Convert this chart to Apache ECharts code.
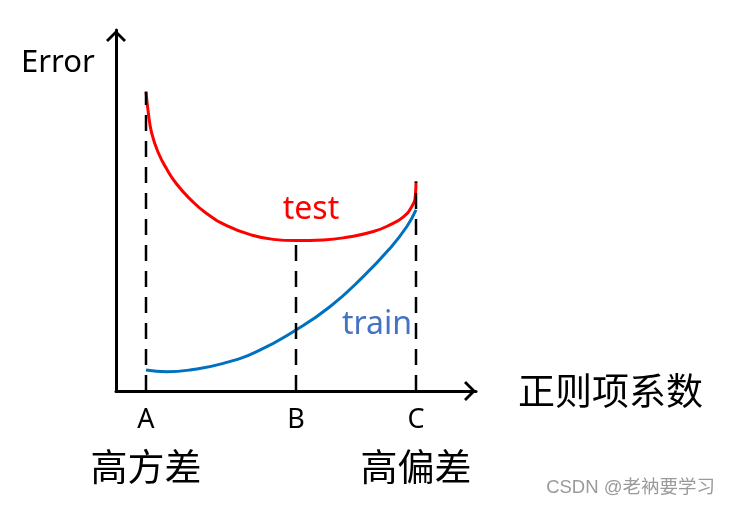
<!DOCTYPE html>
<html><head><meta charset="utf-8">
<script src="https://cdn.jsdelivr.net/npm/echarts@6/dist/echarts.min.js"></script>
<style>html,body{margin:0;padding:0;background:#fff}#c{width:732px;height:505px}</style>
</head><body><div id="c"></div>
<script>
// data (x: regularization coefficient in arbitrary units, y: error)
const testX  = [1, 1.08, 1.19, 1.41, 1.69, 2.02, 2.47, 3.02, 3.69, 4.47, 5.24, 6, 6.91, 7.8, 8.58, 9.13, 9.58, 9.86, 9.98, 10];
const testY  = [9.95, 9.23, 8.57, 7.92, 7.38, 6.88, 6.38, 5.9, 5.5, 5.2, 5.04, 5.0, 5.02, 5.13, 5.3, 5.52, 5.79, 6.13, 6.5, 6.96];
const trainX = [1, 1.69, 2.47, 3.58, 4.69, 6, 7.13, 8.24, 9.13, 9.69, 10];
const trainY = [0.7, 0.64, 0.7, 0.92, 1.31, 2.03, 2.8, 3.8, 4.74, 5.46, 6.02];
const markX = [1, 6, 10];
const markTop = [9.95, 5.0, 6.96];
const markLetters = ['A', 'B', 'C'];
const markNotes = ['高方差', '', '高偏差'];
const testLabelAt = [6.5, 6.02];
const trainLabelAt = [8.7, 2.2];

const FONT = '"Noto Sans", "Noto Sans CJK SC", sans-serif';
const CJK = '"Noto Sans CJK SC", "Noto Sans", sans-serif';
const chevron = 'path://M0,10 L10,0 L20,10 L18,12 L10,4 L2,12 Z';

const zip = (xs, ys) => xs.map((x, i) => [x, ys[i]]);

const dropSeries = markX.map((x, i) => ({
  type: 'line', data: [[x, 0], [x, markTop[i]]], symbol: 'none', silent: true, z: 5,
  lineStyle: { color: '#000', width: 2.5, type: [16, 10] }
}));

const chart = echarts.init(document.getElementById('c'), null, { renderer: 'canvas' });
chart.setOption({
  animation: false,
  backgroundColor: '#fff',
  grid: { left: 116, right: 256, top: 30, bottom: 114, containLabel: false },
  title: [
    { text: 'Error', left: 16, top: 43, textStyle: { fontFamily: FONT, fontSize: 31, fontWeight: 'normal', color: '#000' } },
    { text: 'CSDN @老衲要学习', right: 12, top: 474, textStyle: { fontFamily: '"Liberation Sans", "Noto Sans CJK SC", sans-serif', fontSize: 18.5, fontWeight: 'normal', color: '#9a9a9a' } }
  ],
  xAxis: {
    type: 'value', min: 0, max: 12, interval: 1,
    name: '正则项系数', nameLocation: 'end', nameGap: 42,
    nameTextStyle: { fontFamily: CJK, fontSize: 37, color: '#000' },
    axisLine: { show: true, lineStyle: { color: '#000', width: 3 }, symbol: ['none', chevron], symbolSize: [20, 12], symbolOffset: [0, -6] },
    axisTick: { show: false },
    splitLine: { show: false },
    axisLabel: {
      show: true, margin: 9, interval: 0, verticalAlign: 'top',
      formatter: v => {
        const i = markX.indexOf(v);
        if (i < 0) return '';
        return markNotes[i] ? '{a|' + markLetters[i] + '}\n{b|' + markNotes[i] + '}' : '{a|' + markLetters[i] + '}';
      },
      rich: {
        a: { fontFamily: FONT, fontSize: 27, lineHeight: 40, color: '#000' },
        b: { fontFamily: CJK, fontSize: 37, lineHeight: 54, color: '#000' }
      }
    }
  },
  yAxis: {
    type: 'value', min: 0, max: 12,
    axisLine: { show: true, lineStyle: { color: '#000', width: 3 }, symbol: ['none', chevron], symbolSize: [20, 12], symbolOffset: [0, -6] },
    axisTick: { show: false }, axisLabel: { show: false }, splitLine: { show: false }
  },
  series: [
    {
      name: 'test', type: 'line', data: zip(testX, testY), smooth: 0.5, symbol: 'none', z: 3,
      lineStyle: { color: '#ff0000', width: 3 },
      markPoint: {
        symbol: 'circle', symbolSize: 0, silent: true,
        data: [{ coord: testLabelAt }],
        label: { show: true, position: 'inside', formatter: 'test', fontFamily: FONT, fontSize: 32, color: '#ff0000' }
      }
    },
    {
      name: 'train', type: 'line', data: zip(trainX, trainY), smooth: 0.5, symbol: 'none', z: 3,
      lineStyle: { color: '#0070c0', width: 3 },
      markPoint: {
        symbol: 'circle', symbolSize: 0, silent: true,
        data: [{ coord: trainLabelAt }],
        label: { show: true, position: 'inside', formatter: 'train', fontFamily: FONT, fontSize: 32, color: '#4472c4' }
      }
    },
    ...dropSeries
  ]
});
</script>
</body></html>
